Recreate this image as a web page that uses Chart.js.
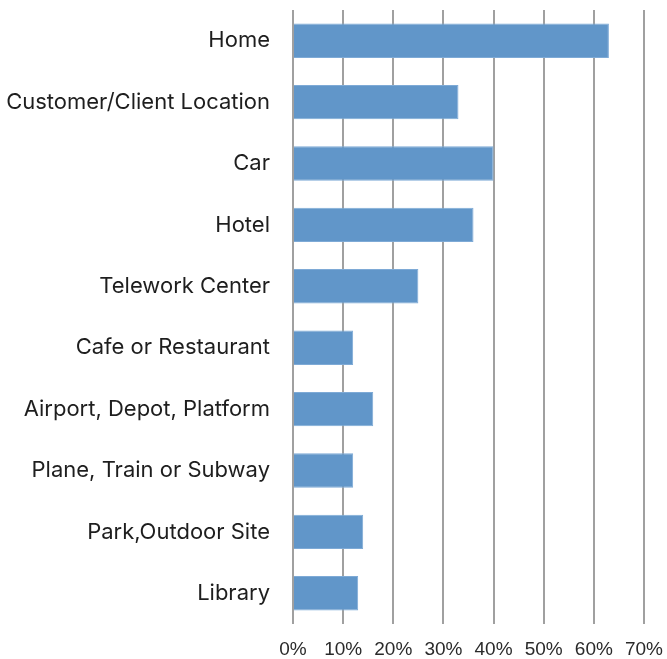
<!DOCTYPE html>
<html>
<head>
<meta charset="utf-8">
<script src="https://cdn.jsdelivr.net/npm/chart.js@4/dist/chart.umd.min.js"></script>
<style>
  html, body { margin: 0; padding: 0; background: #fff; }
  #wrap { width: 667px; height: 659px; }
</style>
</head>
<body>
<div id="wrap"><canvas id="chart" width="667" height="659"></canvas></div>
<script>
// Work locations, share of respondents (%)
const categories = [
  'Home', 'Customer/Client Location', 'Car', 'Hotel', 'Telework Center',
  'Cafe or Restaurant', 'Airport, Depot, Platform', 'Plane, Train or Subway',
  'Park,Outdoor Site', 'Library'
];
const shares = [63, 33, 40, 36, 25, 12, 16, 12, 14, 13];
const xTicks = [0, 10, 20, 30, 40, 50, 60, 70];

new Chart(document.getElementById('chart'), {
  type: 'bar',
  data: {
    labels: categories,
    datasets: [{
      data: shares,
      backgroundColor: '#6196c9',
      borderColor: '#7eaad6',
      borderWidth: 1,
      barPercentage: 0.56,
      categoryPercentage: 1.0
    }]
  },
  options: {
    indexAxis: 'y',
    responsive: false,
    animation: false,
    layout: { padding: { top: 10, right: 23, bottom: 0, left: 0 } },
    plugins: { legend: { display: false }, tooltip: { enabled: false } },
    scales: {
      x: {
        min: 0,
        max: 70,
        afterBuildTicks: (scale) => { scale.ticks = xTicks.map(v => ({ value: v })); },
        afterFit: (scale) => {
          scale.height = 35;
          scale.paddingLeft = 0;
          scale.paddingRight = 0;
        },
        grid: { color: '#a0a0a0', lineWidth: 2, drawTicks: false },
        border: { display: false },
        ticks: {
          callback: (v) => v + '%',
          color: '#2a2a2a',
          font: { family: '"Liberation Sans", Arial, sans-serif', size: 19 },
          padding: 14,
          maxRotation: 0
        }
      },
      y: {
        afterFit: (scale) => {
          scale.width = 293;
          scale.paddingTop = 0;
          scale.paddingBottom = 0;
        },
        grid: { display: false },
        border: { display: false },
        ticks: {
          color: '#1e1e1e',
          font: { family: 'Inter, sans-serif', size: 22 },
          padding: 15
        }
      }
    }
  }
});
</script>
</body>
</html>
